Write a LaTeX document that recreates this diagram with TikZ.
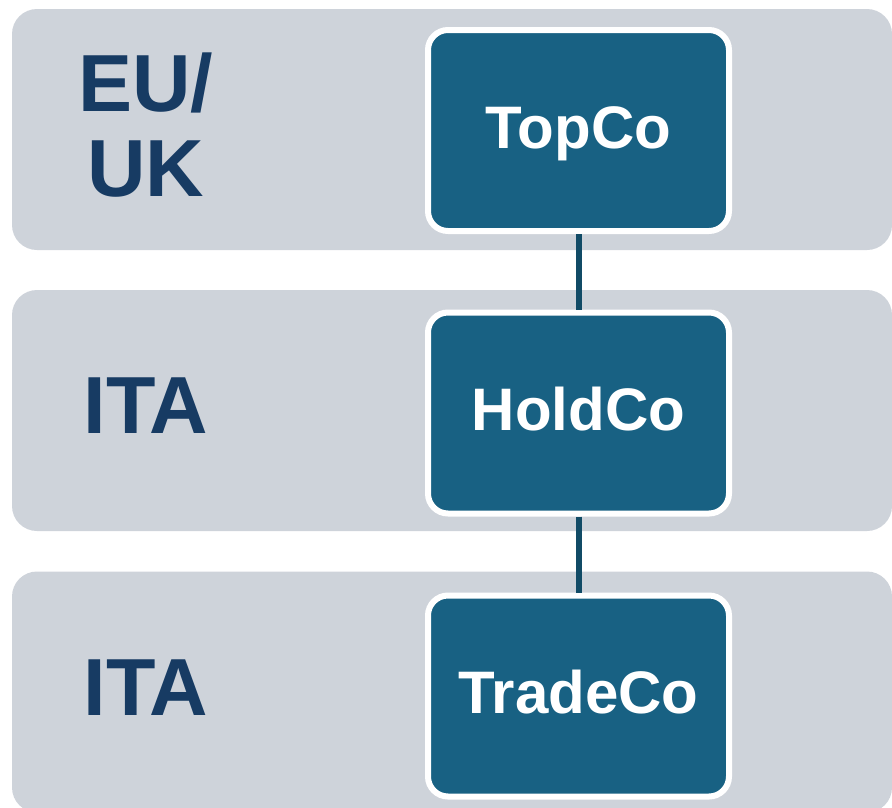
\documentclass[tikz,border=0pt]{standalone}
\usepackage{fontspec}
\setmainfont{Liberation Sans}
\usetikzlibrary{positioning}
\definecolor{bandgrey}{HTML}{CED3DA}
\definecolor{boxteal}{HTML}{186183}
\definecolor{linkteal}{HTML}{114B66}
\definecolor{labelnavy}{HTML}{173B63}
\tikzset{
	band/.style={fill=bandgrey, rounded corners=25pt, minimum width=880pt, minimum height=241pt, inner sep=0pt},
	entity/.style={draw=white, line width=6pt, fill=boxteal, rounded corners=20pt,
		minimum width=301pt, minimum height=201pt,
		text=white, font=\bfseries\fontsize{60}{60}\selectfont, text height=43pt, text depth=8pt},
	country/.style={text=labelnavy, font=\bfseries\fontsize{81}{85}\selectfont, align=center},
	link/.style={draw=linkteal, line width=6pt},
	node distance=75.5pt}

\begin{document}
\begin{tikzpicture}[x=1pt, y=-1pt]
		\useasboundingbox (0,0) rectangle (892,807);
		\clip (0,0) rectangle (892,807);
		
		% jurisdiction bands
		\node[band] (euband) at (452,129.5) {};
		\node[band] (itaband) at (452,410.5) {};
		\node[band] (tradeband) at (452,692) {};
		
		\node[country] (eu) at (146,125) {EU/\\UK};
		\node[country] (ita1) at (146,406) {ITA};
		\node[country] (ita2) at (146,688) {ITA};
		
		% entities
		\node[entity] (topco) at (578.5,130.5) {TopCo};
		\node[entity, below=of topco] (holdco) {HoldCo};
		\node[entity, below=76pt of holdco] (tradeco) {TradeCo};
		
		\draw[link] (topco) -- (holdco);
		\draw[link] (holdco) -- (tradeco);
	\end{tikzpicture}
\end{document}
